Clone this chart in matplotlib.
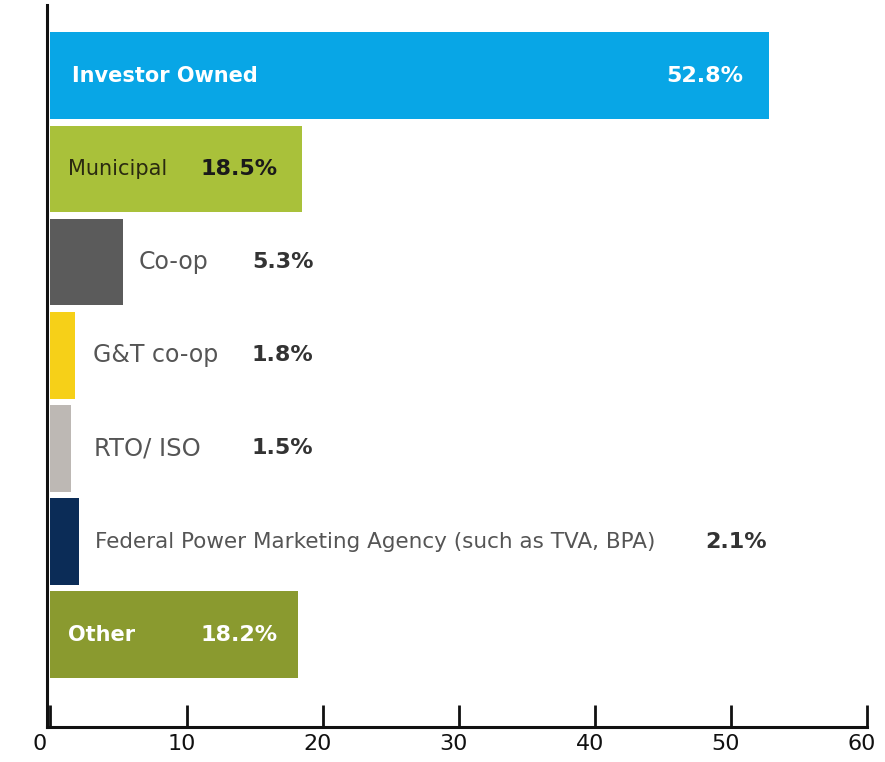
import matplotlib.pyplot as plt
import matplotlib.transforms as mtransforms

plt.rcParams['font.family'] = ['DejaVu Sans']

categories = ["Investor Owned", "Municipal", "Co-op", "G&T co-op", "RTO/ ISO",
              "Federal Power Marketing Agency (such as TVA, BPA)", "Other"]
shares = [52.8, 18.5, 5.3, 1.8, 1.5, 2.1, 18.2]
share_labels = ["52.8%", "18.5%", "5.3%", "1.8%", "1.5%", "2.1%", "18.2%"]
colors = ["#08A6E6", "#A9C13A", "#5B5B5B", "#F6D018", "#BDB8B4", "#0B2C57", "#8A9A2F"]
xticks = [0, 10, 20, 30, 40, 50, 60]

# label placement per bar
name_x = [1.6, 1.3, 6.5, 3.1, 3.2, 3.3, 1.3]
name_col = ["white", "#2a2a10", "#555555", "#555555", "#555555", "#555555", "white"]
name_wt = ["bold", "normal", "normal", "normal", "normal", "normal", "bold"]
name_fs = [15, 15, 17, 17, 17.5, 15.5, 15]
pct_x = [50.9, 11.0, 14.8, 14.8, 14.8, 48.1, 11.0]
pct_ha = ["right", "left", "left", "left", "left", "left", "left"]
pct_col = ["white", "#1a1a1a", "#333333", "#333333", "#333333", "#333333", "white"]

fig = plt.figure(figsize=(8.85, 7.62), dpi=100)
ax = fig.add_axes([47 / 885, 1 - 727 / 762, 820 / 885, 722 / 762])

ypos = list(range(len(categories)))
ax.barh(ypos, shares, height=0.93, color=colors, left=0)

for i in ypos:
    ax.text(name_x[i], i, categories[i], va="center", ha="left", fontsize=name_fs[i],
            color=name_col[i], fontweight=name_wt[i])
    ax.text(pct_x[i], i, share_labels[i], va="center", ha=pct_ha[i], fontsize=16,
            color=pct_col[i], fontweight="bold")

ax.set_xlim(-0.25, 60)
ax.set_ylim(6.99, -0.76)
ax.set_xticks(xticks)
ax.set_yticks([])
ax.tick_params(axis="x", direction="in", length=16, width=2, labelsize=16,
               pad=5, colors="#111111")
for s in ["top", "right"]:
    ax.spines[s].set_visible(False)
for s in ["left", "bottom"]:
    ax.spines[s].set_linewidth(2.2)
    ax.spines[s].set_color("#111111")

# tick labels sit a little left of their ticks in the original
for k, lab in enumerate(ax.get_xticklabels()):
    dx = -11 if k == 0 else -5
    shift = mtransforms.ScaledTranslation(dx / 100, 0, fig.dpi_scale_trans)
    lab.set_transform(lab.get_transform() + shift)

fig.savefig("out.png", dpi=100)
